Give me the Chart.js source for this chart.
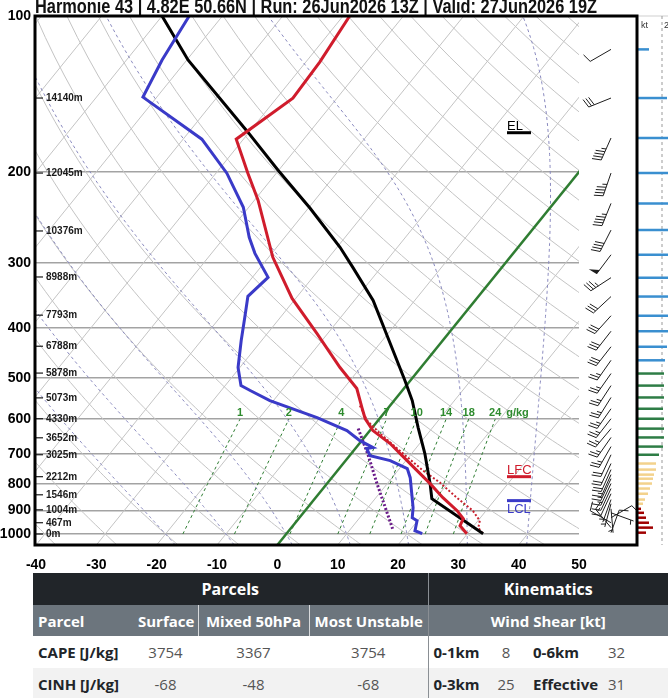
<!DOCTYPE html>
<html>
<head>
<meta charset="utf-8">
<title>Harmonie 43 sounding</title>
<script src="https://cdn.jsdelivr.net/npm/chart.js@4.4.1/dist/chart.umd.min.js"></script>
<style>
  html, body { margin: 0; padding: 0; background: #fff; }
  body { width: 668px; height: 698px; overflow: hidden; position: relative; }
  #skewt { position: absolute; left: 0; top: 0; }
  #stats { position: absolute; left: 33px; top: 573px; border-collapse: collapse; table-layout: fixed; width: 635px;
    font-family: 'Open Sans', sans-serif; font-size: 15px; color: #212529; }
  #stats td, #stats th { padding: 0 5px; white-space: nowrap; overflow: hidden; }
  #stats tr.h1 th { background: #212529; color: #fff; height: 32px; font-size: 16px; }
  #stats tr.h2 th { background: #6c757d; color: #fff; height: 31px; }
  #stats tr.r1 td { background: #fff; height: 32px; }
  #stats tr.r2 td { background: #f2f2f2; height: 31px; }
  #stats .lbl { font-weight: bold; text-align: left; }
  #stats .num { text-align: center; color: #555; }
  #stats .val { text-align: left; color: #555; }
  #stats .sep { border-left: 1px solid #8a8f94; }
  #stats .wsep { border-left: 1px solid #d8dadc; }
</style>
</head>
<body>
<canvas id="skewt" width="668" height="570"></canvas>
<table id="stats"></table>
<script>
const titleText = 'Harmonie 43 | 4.82E 50.66N | Run: 26Jun2026 13Z | Valid: 27Jun2026 19Z';

// axes
const pressureTicks = [100, 200, 300, 400, 500, 600, 700, 800, 900, 1000];
const tempTicks = [-40, -30, -20, -10, 0, 10, 20, 30, 40, 50];

// environment temperature (red)
const tempP = [100, 122.7, 144.1, 172.9, 201.2, 226.8, 292.3, 350.9, 410.0, 477.0, 523.7, 569.9, 598.5, 631.4, 668.9, 705.7, 754.5, 799.4, 850.8, 901.5, 934.2, 963.8, 998.6];
const tempC = [-58.9, -57.7, -57.3, -61.2, -54.7, -49.4, -39.3, -30.6, -21.8, -13.4, -7.8, -4.4, -2.4, 0.5, 5.1, 8.7, 13.2, 17.1, 21.1, 25.2, 27.3, 27.7, 29.9];

// dew point (blue)
const dewP = [100, 121.6, 143.4, 172.9, 201.1, 234.0, 267.4, 287.2, 319.6, 347.7, 381.8, 423.0, 477.0, 516.8, 528.4, 552.5, 595.8, 631.4, 660.2, 681.0, 684.1, 705.7, 721.6, 747.7, 778.4, 889.5, 930.0, 942.5, 985.4, 998.6];
const dewC = [-85.5, -84.1, -82.3, -66.9, -58.2, -50.9, -45.9, -42.8, -37.4, -38.2, -35.9, -33.4, -30.3, -27.4, -25.2, -20.6, -10.5, -3.8, -0.3, 2.8, 1.9, 3.4, 7.4, 11.3, 13.0, 17.5, 18.7, 19.9, 20.9, 22.5];

// parcel path (black)
const parcelP = [100, 121.6, 167.6, 198.5, 235.0, 279.6, 305.6, 354.0, 442.2, 505.4, 552.5, 623.0, 699.4, 799.4, 854.6, 998.6];
const parcelC = [-90.0, -79.8, -60.2, -50.1, -39.7, -29.5, -24.7, -16.9, -6.9, -0.9, 3.0, 7.6, 12.2, 17.1, 19.4, 32.6];

// virtual temperature (red dotted)
const virtP = [565.0, 604.0, 640.0, 699.4, 754.5, 795.8, 850.8, 901.5, 942.5, 972.4, 994.3];
const virtC = [-5.0, -1.8, 2.1, 8.6, 14.2, 18.6, 23.4, 27.8, 30.3, 31.0, 32.3];

// wet bulb / downdraft (purple dotted)
const wetP = [625.8, 705.7, 799.4, 889.5, 985.4];
const wetC = [-2.2, 3.1, 8.3, 12.9, 17.3];

// height labels
const heightP = [144, 201, 260, 319, 378, 434, 489, 546, 599, 652, 703, 775, 840, 898, 951, 1000];
const heightM = ['14140m', '12045m', '10376m', '8988m', '7793m', '6788m', '5878m', '5073m', '4330m', '3652m', '3025m', '2212m', '1546m', '1004m', '467m', '0m'];

// parcel levels
const levelNames = ['EL', 'LFC', 'LCL'];
const levelP = [168, 775, 862];
const levelColors = ['#000000', '#d01c2c', '#3a3ac8'];

// wind profile
const windP = [116, 144, 172, 201, 230, 259, 289, 320, 348, 379, 406, 435, 462, 490, 517, 545, 573, 599, 626, 651, 678, 703, 731, 751, 768, 782, 799, 817, 836, 858, 874, 894, 910, 930, 951, 972, 994];
const windDir = [240, 248, 204, 199, 202, 207, 217, 237, 227, 222, 218, 218, 215, 215, 213, 212, 215, 218, 220, 215, 210, 205, 205, 204, 204, 205, 205, 205, 205, 200, 195, 175, 110, 60, 300, 320, 20];
const windKt = [11, 29, 45, 45, 45, 40, 50, 35, 32, 32, 31, 29, 27, 26, 26, 26, 25, 26, 26, 26, 25, 21, 18, 18, 16, 15, 14, 12, 10, 7, 5, 3, 6, 8, 11, 15, 8];

// background lines
const mixRatios = [1, 2, 4, 7, 10, 14, 18, 24];
const moistThetaW = [-20, -10, 0, 10, 20, 30, 40];

// table
const parcelNames = ['Surface', 'Mixed 50hPa', 'Most Unstable'];
const capeVals = [3754, 3367, 3754];
const cinhVals = [-68, -48, -68];
const shearNames = ['0-1km', '0-6km', '0-3km', 'Effective'];
const shearVals = [8, 32, 25, 31];

const P_BOT = 1050, P_TOP = 100, SKEW = 30.15;
const skewX = (t, p) => t + SKEW * Math.log(P_BOT / p);
const toPts = (ps, ts) => ps.map((p, i) => ({ x: skewX(ts[i], p), y: p }));

function satMix(tc, p) {
  const es = 6.112 * Math.exp(17.67 * tc / (tc + 243.5));
  return 0.622 * es / (p - es);
}
function moistRate(tc, p) {
  const T = tc + 273.15, rs = satMix(tc, p);
  return (287.04 * T + 2.501e6 * rs) / (p * (1005.7 + 2.501e6 * 2.501e6 * rs * 0.622 / (287.04 * T * T)));
}
function moistAdiabat(t0) {
  const down = [];
  let t = t0, p = 1000;
  while (p < P_BOT) {
    const dp = 5, k1 = moistRate(t, p), k2 = moistRate(t + k1 * dp, p + dp);
    t += 0.5 * (k1 + k2) * dp; p += dp; down.push({ p, t });
  }
  const pts = down.reverse().concat([{ p: 1000, t: t0 }]);
  t = t0; p = 1000;
  while (p > P_TOP) {
    const dp = -5, k1 = moistRate(t, p), k2 = moistRate(t + k1 * dp, p + dp);
    t += 0.5 * (k1 + k2) * dp; p += dp; pts.push({ p, t });
  }
  return pts.map(o => ({ x: skewX(o.t, o.p), y: o.p }));
}
function dewFromMix(w, p) {
  const e = w * p / (622 + w), l = Math.log(e / 6.112);
  return 243.5 * l / (17.67 - l);
}

function line(data, color, width, dash, extra) {
  return Object.assign({ data, showLine: true, borderColor: color, borderWidth: width, borderDash: dash || [],
    pointRadius: 0, fill: false, tension: 0 }, extra || {});
}

const datasets = [
  line(toPts(tempP, tempC), '#d01c2c', 3),
  line(toPts(dewP, dewC), '#3a3ac8', 3),
  line(toPts(parcelP, parcelC), '#000000', 3),
  line(toPts(virtP, virtC), '#c8202e', 2, [2, 2]),
  line(toPts(wetP, wetC), '#6a1b8a', 3, [2, 2]),
  line([{ x: skewX(0, P_BOT), y: P_BOT }, { x: skewX(0, P_TOP), y: P_TOP }], '#2f7d32', 2.5, [], { clip: 0 })
];
mixRatios.forEach(w => {
  const pts = [];
  for (let p = 1000; p >= 600; p -= 50) pts.push({ x: skewX(dewFromMix(w, p), p), y: p });
  datasets.push(line(pts, '#2e7d32', 1, [3, 3], { clip: 0 }));
});
moistThetaW.forEach(t => datasets.push(line(moistAdiabat(t), '#8a8abf', 1, [3, 3], { clip: 0 })));
for (let th = -40; th <= 220; th += 10) {
  const pts = [];
  for (let p = P_BOT; p >= P_TOP; p -= 10) pts.push({ x: skewX((th + 273.15) * Math.pow(p / 1000, 0.2857) - 273.15, p), y: p });
  datasets.push(line(pts, '#c4c4c4', 1, [], { clip: 0 }));
}
for (let t = -110; t <= 50; t += 10) {
  if (t === 0) continue;
  datasets.push(line([{ x: skewX(t, P_BOT), y: P_BOT }, { x: skewX(t, P_TOP), y: P_TOP }], '#c4c4c4', 1, [], { clip: 0 }));
}

function drawBarb(ctx, x0, y0, dir, kt) {
  const r = dir * Math.PI / 180;
  const ux = Math.sin(r), uy = -Math.cos(r);
  const nx = -uy, ny = ux;
  const L = 24, F = 9, G = 3;
  const at = d => [x0 + ux * d, y0 + uy * d];
  ctx.beginPath(); ctx.moveTo(x0, y0); ctx.lineTo(...at(L)); ctx.stroke();
  let s = Math.round(kt / 5) * 5, d = L;
  while (s >= 50) {
    const a = at(d), b = at(d - 5);
    ctx.beginPath(); ctx.moveTo(a[0], a[1]);
    ctx.lineTo(a[0] + nx * F + ux * 1, a[1] + ny * F + uy * 1);
    ctx.lineTo(b[0], b[1]); ctx.closePath(); ctx.fill();
    d -= 6; s -= 50;
  }
  while (s >= 10) {
    const a = at(d);
    ctx.beginPath(); ctx.moveTo(a[0], a[1]);
    ctx.lineTo(a[0] + nx * F + ux * 2.5, a[1] + ny * F + uy * 2.5); ctx.stroke();
    d -= G; s -= 10;
  }
  if (s >= 5) {
    if (d === L) d -= G;
    const a = at(d);
    ctx.beginPath(); ctx.moveTo(a[0], a[1]);
    ctx.lineTo(a[0] + nx * F / 2 + ux * 1.3, a[1] + ny * F / 2 + uy * 1.3); ctx.stroke();
  }
}
function layerColor(p) {
  return p >= 890 ? '#a00000' : p > 710 ? '#f3d28c' : p > 470 ? '#2e7d46' : '#3a8fd0';
}

const decor = {
  id: 'decor',
  beforeDraw(c) {
    const ctx = c.ctx;
    ctx.save(); ctx.fillStyle = '#fff'; ctx.fillRect(0, 0, c.width, c.height); ctx.restore();
  },
  afterDraw(c) {
    const ctx = c.ctx, xs = c.scales.x, ys = c.scales.y, a = c.chartArea;
    const fam = '"Liberation Sans", Arial, sans-serif';
    ctx.save();

    // title, cut at the top edge like the source image; squeezed to the source width
    ctx.fillStyle = '#111'; ctx.textAlign = 'left'; ctx.textBaseline = 'alphabetic';
    ctx.font = 'bold 20px ' + fam;
    const sx = 562 / ctx.measureText(titleText).width;
    ctx.save(); ctx.translate(35, 12.5); ctx.scale(sx, 1);
    ctx.fillText(titleText, 0, 0);
    ctx.restore();

    // height labels
    ctx.font = 'bold 10px ' + fam; ctx.fillStyle = '#1a1a1a'; ctx.strokeStyle = '#1a1a1a'; ctx.lineWidth = 1.2;
    ctx.textBaseline = 'middle';
    heightP.forEach((p, i) => {
      const y = ys.getPixelForValue(p);
      ctx.beginPath(); ctx.moveTo(a.left, y); ctx.lineTo(a.left + 7, y); ctx.stroke();
      ctx.fillText(heightM[i], a.left + 10, y + 0.5);
    });

    // mixing ratio labels
    ctx.font = 'bold 11px ' + fam; ctx.fillStyle = '#2e8b2e'; ctx.textAlign = 'center'; ctx.textBaseline = 'alphabetic';
    const y600 = ys.getPixelForValue(600) - 3.5;
    let lastX = 0;
    mixRatios.forEach(w => {
      lastX = xs.getPixelForValue(skewX(dewFromMix(w, 600), 600));
      ctx.fillText(String(w), lastX, y600);
    });
    ctx.textAlign = 'left'; ctx.fillText('g/kg', lastX + 11, y600);

    // EL / LFC / LCL markers
    ctx.font = '13px ' + fam; ctx.lineWidth = 3;
    levelNames.forEach((n, i) => {
      const y = ys.getPixelForValue(levelP[i]);
      ctx.strokeStyle = levelColors[i]; ctx.fillStyle = levelColors[i];
      ctx.beginPath(); ctx.moveTo(507, y); ctx.lineTo(531, y); ctx.stroke();
      if (n === 'LCL') { ctx.textBaseline = 'top'; ctx.fillText(n, 507, y + 2); }
      else { ctx.textBaseline = 'alphabetic'; ctx.fillText(n, 507, y - 3); }
    });

    // wind speed panel
    ctx.strokeStyle = '#cfcfcf'; ctx.lineWidth = 1;
    ctx.beginPath(); ctx.moveTo(637, a.top); ctx.lineTo(668, a.top); ctx.stroke();
    ctx.strokeStyle = '#9a9a9a'; ctx.setLineDash([3, 3]);
    ctx.beginPath(); ctx.moveTo(662, a.top); ctx.lineTo(662, a.bottom); ctx.stroke();
    ctx.setLineDash([]);
    ctx.font = '9px ' + fam; ctx.fillStyle = '#333'; ctx.textBaseline = 'alphabetic';
    ctx.fillText('kt', 641, 28);
    ctx.fillText('25', 664, 28);
    ctx.lineWidth = 2.5;
    windP.forEach((p, i) => {
      const y = ys.getPixelForValue(p);
      ctx.strokeStyle = layerColor(p);
      ctx.beginPath(); ctx.moveTo(638, y); ctx.lineTo(638 + windKt[i], y); ctx.stroke();
    });

    // wind barbs
    ctx.strokeStyle = '#1e1e1e'; ctx.fillStyle = '#1e1e1e'; ctx.lineWidth = 1;
    windP.forEach((p, i) => drawBarb(ctx, a.right + 32, ys.getPixelForValue(p), windDir[i], windKt[i]));

    // frame
    ctx.strokeStyle = '#000'; ctx.lineWidth = 3;
    ctx.strokeRect(35, a.top, 602, a.bottom - a.top);
    ctx.restore();
  }
};

Chart.defaults.font.family = '"Liberation Sans", Arial, sans-serif';

new Chart(document.getElementById('skewt'), {
  type: 'scatter',
  data: { datasets },
  plugins: [decor],
  options: {
    responsive: false,
    animation: false,
    events: [],
    layout: { padding: { top: 16, right: 89, left: 0, bottom: 0 } },
    plugins: { legend: { display: false }, tooltip: { enabled: false }, title: { display: false } },
    scales: {
      x: {
        type: 'linear', min: -40, max: 50,
        afterBuildTicks: s => { s.ticks = tempTicks.map(v => ({ value: v })); },
        afterFit: s => { s.height = 25; },
        grid: { display: false },
        border: { display: false },
        ticks: { color: '#000', font: { size: 14, weight: 'bold' }, padding: 4, autoSkip: false, maxRotation: 0 }
      },
      y: {
        type: 'logarithmic', reverse: true, min: P_TOP, max: P_BOT, bounds: 'data',
        afterBuildTicks: s => { s.ticks = pressureTicks.map(v => ({ value: v })); },
        afterFit: s => { s.width = 36; },
        grid: { color: '#a3a3a3', lineWidth: 1.5, drawTicks: false },
        border: { display: false },
        ticks: { color: '#000', font: { size: 14, weight: 'bold' }, padding: 5, autoSkip: false, callback: v => String(v) }
      }
    }
  }
});

// stats table
const colW = [100, 65, 111, 119, 56, 44, 75, 65];
document.getElementById('stats').innerHTML =
  '<colgroup>' + colW.map(w => `<col style="width:${w}px">`).join('') + '</colgroup>' +
  '<tr class="h1"><th colspan="4">Parcels</th><th colspan="4" class="sep">Kinematics</th></tr>' +
  '<tr class="h2"><th class="lbl">Parcel</th>' +
  parcelNames.map((n, i) => `<th${i ? ' class="wsep"' : ''}>${n}</th>`).join('') +
  '<th colspan="4" class="sep">Wind Shear [kt]</th></tr>' +
  '<tr class="r1"><td class="lbl">CAPE [J/kg]</td>' + capeVals.map(v => `<td class="num">${v}</td>`).join('') +
  `<td class="lbl sep">${shearNames[0]}</td><td class="num">${shearVals[0]}</td><td class="lbl">${shearNames[1]}</td><td class="val">${shearVals[1]}</td></tr>` +
  '<tr class="r2"><td class="lbl">CINH [J/kg]</td>' + cinhVals.map(v => `<td class="num">${v}</td>`).join('') +
  `<td class="lbl sep">${shearNames[2]}</td><td class="num">${shearVals[2]}</td><td class="lbl">${shearNames[3]}</td><td class="val">${shearVals[3]}</td></tr>`;
</script>
</body>
</html>
